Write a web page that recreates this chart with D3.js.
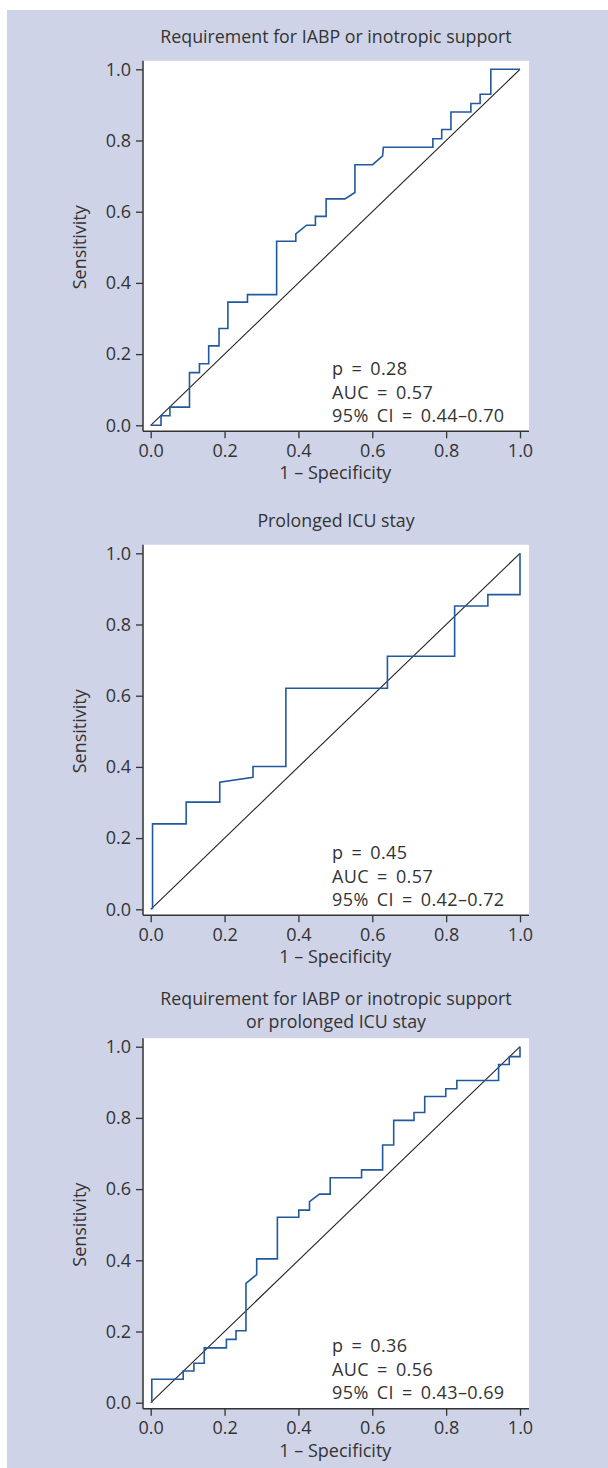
<!DOCTYPE html>
<html>
<head>
<meta charset="utf-8">
<script src="https://cdn.jsdelivr.net/npm/d3@7"></script>
<style>
    body { margin: 0; background: #fff; }
    text { font-family: "Open Sans", sans-serif; fill: #333; }
</style>
</head>
<body>
<div id="chart"></div>
<script>
// ROC curve vertices (1 - specificity, sensitivity)
const fprSupport = [0, 0.028, 0.028, 0.052, 0.052, 0.105, 0.105, 0.132, 0.132, 0.157, 0.157, 0.185, 0.185, 0.209, 0.209, 0.262, 0.262, 0.341, 0.341, 0.393, 0.393, 0.422, 0.446, 0.446, 0.475, 0.475, 0.526, 0.553, 0.553, 0.601, 0.628, 0.630, 0.764, 0.764, 0.788, 0.788, 0.813, 0.813, 0.867, 0.867, 0.892, 0.892, 0.921, 0.921, 1.0];
const tprSupport = [0, 0, 0.027, 0.027, 0.051, 0.051, 0.148, 0.148, 0.173, 0.173, 0.223, 0.223, 0.272, 0.272, 0.346, 0.346, 0.367, 0.367, 0.517, 0.517, 0.538, 0.562, 0.562, 0.587, 0.587, 0.636, 0.636, 0.654, 0.732, 0.732, 0.757, 0.781, 0.781, 0.805, 0.805, 0.831, 0.831, 0.880, 0.880, 0.904, 0.904, 0.930, 0.930, 1.0, 1.0];

const fprIcu = [0.005, 0.005, 0.096, 0.096, 0.187, 0.187, 0.277, 0.277, 0.366, 0.366, 0.641, 0.641, 0.823, 0.823, 0.913, 0.913, 1.0, 1.0];
const tprIcu = [0, 0.240, 0.240, 0.301, 0.301, 0.357, 0.371, 0.401, 0.401, 0.621, 0.621, 0.711, 0.711, 0.852, 0.852, 0.884, 0.884, 1.0];

const fprEither = [0.003, 0.003, 0.088, 0.088, 0.117, 0.117, 0.145, 0.145, 0.205, 0.205, 0.231, 0.231, 0.258, 0.258, 0.287, 0.287, 0.343, 0.343, 0.401, 0.401, 0.430, 0.430, 0.457, 0.486, 0.486, 0.571, 0.571, 0.628, 0.628, 0.658, 0.658, 0.713, 0.713, 0.742, 0.742, 0.799, 0.799, 0.829, 0.829, 0.942, 0.942, 0.971, 0.971, 1.0, 1.0];
const tprEither = [0, 0.066, 0.066, 0.089, 0.089, 0.111, 0.111, 0.154, 0.154, 0.178, 0.178, 0.202, 0.202, 0.335, 0.360, 0.404, 0.404, 0.521, 0.521, 0.541, 0.541, 0.565, 0.586, 0.586, 0.632, 0.632, 0.654, 0.654, 0.724, 0.724, 0.793, 0.793, 0.815, 0.815, 0.860, 0.860, 0.882, 0.882, 0.905, 0.905, 0.950, 0.950, 0.972, 0.972, 1.0];

const titles = [
    ['Requirement for IABP or inotropic support'],
    ['Prolonged ICU stay'],
    ['Requirement for IABP or inotropic support', 'or prolonged ICU stay'],
];
const pValues = ['0.28', '0.45', '0.36'];
const aucValues = ['0.57', '0.57', '0.56'];
const ciValues = ['0.44\u20130.70', '0.42\u20130.72', '0.43\u20130.69'];
const ticks = [0, 0.2, 0.4, 0.6, 0.8, 1.0];

const W = 608, H = 1468;
const BLUE = '#22599d';
const FS = 18;

// top of the y range (value 1.0) for each panel, and baseline of the last title line
const panelTops = [69.3, 553.3, 1046.7];
const titleBases = [43.3, 527.3, 1028];
const curves = [[fprSupport, tprSupport], [fprIcu, tprIcu], [fprEither, tprEither]];

const svg = d3.select('#chart').append('svg')
    .attr('width', W)
    .attr('height', H);

svg.append('rect')
    .attr('x', 7).attr('y', 10)
    .attr('width', W - 7).attr('height', H - 10)
    .attr('fill', '#cfd3e7');

const x = d3.scaleLinear().domain([0, 1]).range([150.7, 520]);
const fmt = d3.format('.1f');

curves.forEach(function (c, i) {
    const top = panelTops[i];
    const y = d3.scaleLinear().domain([0, 1]).range([top + 356, top]);
    const boxL = 143, boxR = 529, boxT = top - 8.5, boxB = top + 362;
    const g = svg.append('g');

    g.append('rect')
        .attr('x', boxL).attr('y', boxT)
        .attr('width', boxR - boxL).attr('height', boxB - boxT)
        .attr('fill', '#fff');

    // reference line
    g.append('line')
        .attr('x1', x(0)).attr('y1', y(0))
        .attr('x2', x(1)).attr('y2', y(1))
        .attr('stroke', '#222')
        .attr('stroke-width', 1.1);

    const line = d3.line().x(d => x(d[0])).y(d => y(d[1]));
    g.append('path')
        .attr('d', line(d3.zip(c[0], c[1])))
        .attr('fill', 'none')
        .attr('stroke', BLUE)
        .attr('stroke-width', 1.6);

    // axes
    const ay = g.append('g')
        .attr('transform', `translate(${boxL},0)`)
        .call(d3.axisLeft(y).tickValues(ticks).tickFormat(fmt).tickSize(7).tickPadding(5));
    const ax = g.append('g')
        .attr('transform', `translate(0,${boxB})`)
        .call(d3.axisBottom(x).tickValues(ticks).tickFormat(fmt).tickSize(7).tickPadding(6));
    [ay, ax].forEach(a => {
        a.select('.domain').remove();
        a.selectAll('line').attr('stroke', '#333').attr('stroke-width', 1.3);
        a.selectAll('text').attr('font-size', FS).attr('fill', '#333')
            .style('font-family', '"Open Sans", sans-serif');
    });
    g.append('line')
        .attr('x1', boxL).attr('y1', boxT).attr('x2', boxL).attr('y2', boxB)
        .attr('stroke', '#333').attr('stroke-width', 1.5);
    g.append('line')
        .attr('x1', boxL).attr('y1', boxB).attr('x2', boxR).attr('y2', boxB)
        .attr('stroke', '#333').attr('stroke-width', 1.5);

    // titles
    const t = titles[i];
    t.forEach((s, k) => {
        g.append('text')
            .attr('x', 336)
            .attr('y', titleBases[i] - (t.length - 1 - k) * 23.5)
            .attr('text-anchor', 'middle')
            .attr('font-size', 17.8)
            .text(s);
    });

    g.append('text')
        .attr('x', (x.range()[0] + x.range()[1]) / 2)
        .attr('y', boxB + 48)
        .attr('text-anchor', 'middle')
        .attr('font-size', FS)
        .text('1 \u2013 Specificity');

    g.append('text')
        .attr('transform', `translate(86,${(y.range()[0] + y.range()[1]) / 2}) rotate(-90)`)
        .attr('text-anchor', 'middle')
        .attr('font-size', FS)
        .text('Sensitivity');

    const stats = ['p = ' + pValues[i], 'AUC = ' + aucValues[i], '95% CI = ' + ciValues[i]];
    stats.forEach((s, k) => {
        g.append('text')
            .attr('x', 332)
            .attr('y', y(0) - 50.3 + k * 23.5)
            .attr('font-size', FS)
            .style('letter-spacing', '0.4px')
            .style('word-spacing', '3px')
            .text(s);
    });
});
</script>
</body>
</html>
